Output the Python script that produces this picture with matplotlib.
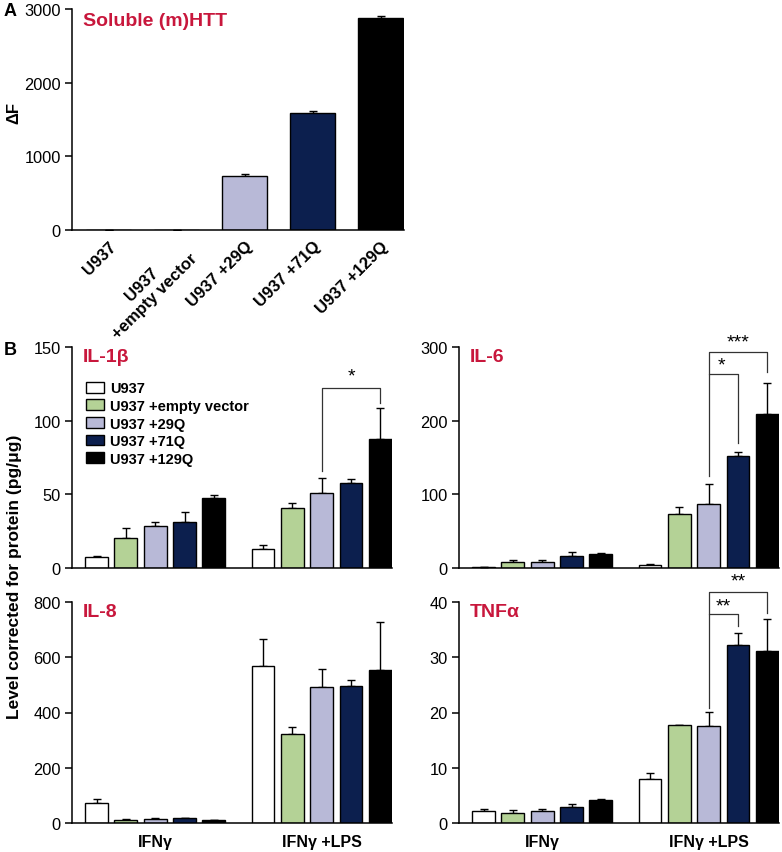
import numpy as np
import matplotlib
matplotlib.use("Agg")
import matplotlib.pyplot as plt
from matplotlib.patches import Patch

plt.rcParams['font.family'] = ['Liberation Sans', 'DejaVu Sans']

# ---------------- data ----------------
cell_lines = ["U937", "U937\n+empty vector", "U937 +29Q", "U937 +71Q", "U937 +129Q"]
legend_labels = ["U937", "U937 +empty vector", "U937 +29Q", "U937 +71Q", "U937 +129Q"]
colors = ["#ffffff", "#b4d296", "#b8b9d7", "#0c1f4e", "#000000"]

htt_values = [0, 4, 734, 1595, 2877]
htt_err = [0, 2, 32, 18, 32]

conditions = ["IFNγ", "IFNγ +LPS"]

il1b_values = [[7.2, 20.3, 28.2, 31.3, 47.7], [12.8, 40.5, 50.7, 57.7, 87.6]]
il1b_err = [[1.1, 6.7, 3.3, 6.5, 1.8], [2.7, 3.4, 10.6, 2.7, 21.0]]

il6_values = [[0.8, 7.7, 8.6, 15.8, 18.9], [4.5, 73.4, 87.4, 151.8, 209.5]]
il6_err = [[0.0, 3.1, 2.2, 5.4, 1.4], [0.5, 9.0, 26.1, 5.9, 42.3]]

il8_values = [[72, 12, 16, 18, 11], [569, 321, 493, 497, 554]]
il8_err = [[16, 2, 2, 1, 1], [97, 26, 64, 19, 173]]

tnf_values = [[2.2, 1.9, 2.1, 2.9, 4.1], [7.9, 17.7, 17.5, 32.3, 31.1]]
tnf_err = [[0.3, 0.4, 0.4, 0.6, 0.2], [1.2, 0.1, 2.6, 2.1, 5.9]]

red = "#c8173c"
W, H = 782, 853


def box(l, t, r, b):
    return [l / W, 1 - b / H, (r - l) / W, (b - t) / H]


def style_axis(ax):
    ax.spines['top'].set_visible(False)
    ax.spines['right'].set_visible(False)
    ax.spines['left'].set_linewidth(1.1)
    ax.spines['bottom'].set_linewidth(1.1)
    ax.tick_params(axis='y', direction='out', length=5, width=1.1, labelsize=11.8, pad=3)
    ax.tick_params(axis='x', length=0)


def bracket(ax, x1, x2, top, y1, y2, label, lx, ly):
    ax.plot([x1, x1, x2, x2], [y1, top, top, y2], color="#333333", lw=0.9, clip_on=False)
    ax.text(lx, ly, label, ha='center', va='center', fontsize=14, clip_on=False)


fig = plt.figure(figsize=(W / 100, H / 100), dpi=100)

# ---------------- panel A ----------------
axA = fig.add_axes(box(72, 10, 404, 231))
xa = np.arange(len(cell_lines))
axA.bar(xa, htt_values, width=0.66, color=colors, edgecolor='black', linewidth=1.0, zorder=2)
axA.errorbar(xa, htt_values, yerr=[np.zeros(len(xa)), htt_err], fmt='none',
             ecolor='black', elinewidth=1.0, capsize=3, capthick=1.0, zorder=1)
axA.set_xlim(-0.54, 4.34)
axA.set_ylim(0, 3000)
axA.set_yticks([0, 1000, 2000, 3000])
style_axis(axA)
axA.set_xticks(xa)
axA.set_xticklabels(cell_lines, rotation=45, ha='right', rotation_mode='anchor',
                    fontsize=12, fontweight='bold', multialignment='center')
axA.tick_params(axis='x', pad=6)
axA.text(0.033, 0.946, "Soluble (m)HTT", transform=axA.transAxes, color=red,
         fontsize=14, fontweight='bold', va='center', ha='left')
fig.text(14 / W, 1 - 113 / H, "ΔF", rotation=90, fontsize=12, fontweight='bold',
         ha='center', va='center')
fig.text(10 / W, 1 - 12 / H, "A", fontsize=13, fontweight='bold', ha='center', va='center')
fig.text(10 / W, 1 - 351 / H, "B", fontsize=13, fontweight='bold', ha='center', va='center')

# ---------------- panel B ----------------
gap = 5.68
xg = [np.arange(5), np.arange(5) + gap]
panels = [
    ("IL-1β", il1b_values, il1b_err, (72, 348, 392, 569), 150, [0, 50, 100, 150]),
    ("IL-6", il6_values, il6_err, (459, 348, 779, 569), 300, [0, 100, 200, 300]),
    ("IL-8", il8_values, il8_err, (72, 603, 392, 824), 800, [0, 200, 400, 600, 800]),
    ("TNFα", tnf_values, tnf_err, (459, 603, 779, 824), 40, [0, 10, 20, 30, 40]),
]

axes = {}
for name, vals, errs, rect, ymax, ticks in panels:
    ax = fig.add_axes(box(*rect))
    for g in range(2):
        ax.bar(xg[g], vals[g], width=0.78, color=colors, edgecolor='black',
               linewidth=1.0, zorder=2)
        ax.errorbar(xg[g], vals[g], yerr=[np.zeros(5), errs[g]], fmt='none',
                    ecolor='black', elinewidth=1.0, capsize=3, capthick=1.0, zorder=1)
    ax.set_xlim(-0.84, 10.08)
    ax.set_ylim(0, ymax)
    ax.set_yticks(ticks)
    style_axis(ax)
    if rect[1] > 500:
        ax.set_xticks([2, 2 + gap])
        ax.set_xticklabels(conditions, fontsize=11.5, fontweight='bold')
        ax.tick_params(axis='x', pad=8)
    else:
        ax.set_xticks([])
    ax.text(0.034, 0.955, name, transform=ax.transAxes, color=red, fontsize=14,
            fontweight='bold', va='center', ha='left')
    axes[name] = ax

# legend in IL-1beta panel
handles = [Patch(facecolor=c, edgecolor='black', linewidth=1.0) for c in colors]
axes["IL-1β"].legend(handles, legend_labels, loc='upper left', bbox_to_anchor=(0.044, 0.845),
                     frameon=False, prop={'weight': 'bold', 'size': 10.5},
                     handlelength=1.2, handleheight=0.75, handletextpad=0.45,
                     labelspacing=0.25, borderpad=0, borderaxespad=0)

# significance brackets
xl, xn, xb = 2 + gap, 3 + gap, 4 + gap
bracket(axes["IL-1β"], xl, xb, 122, 66, 112, "*", (xl + xb) / 2, 130)
bracket(axes["IL-6"], xl, xn, 264, 125, 170, "*", xl + 0.45, 276)
bracket(axes["IL-6"], xl, xb, 293, 264, 266, "***", (xl + xb) / 2, 307)
bracket(axes["TNFα"], xl, xn, 37.8, 20.8, 35.6, "**", xl + 0.5, 39.2)
bracket(axes["TNFα"], xl, xb, 41.8, 37.8, 38.0, "**", (xl + xb) / 2, 43.8)

fig.text(15 / W, 1 - 577 / H, "Level corrected for protein (pg/μg)", rotation=90,
         fontsize=12.5, fontweight='bold', ha='center', va='center')

fig.savefig("out.png", dpi=100)
